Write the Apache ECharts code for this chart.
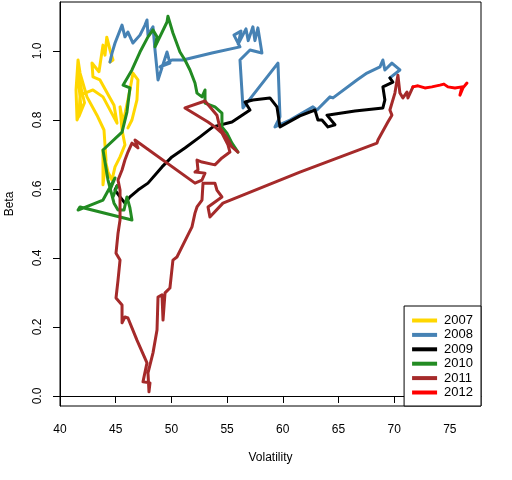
<!DOCTYPE html>
<html>
<head>
<meta charset="utf-8">
<script src="https://cdn.jsdelivr.net/npm/echarts@6/dist/echarts.min.js"></script>
<style>
  html, body { margin: 0; padding: 0; background: #fff; }
  #chart { width: 512px; height: 480px; }
</style>
</head>
<body>
<div id="chart"></div>
<script>
// [volatility, beta], one path per year
const years = ['2007', '2008', '2009', '2010', '2011', '2012'];
const colors = ['#FFD700', '#4682B4', '#000000', '#228B22', '#A52A2A', '#FF0000'];

const path2007 = [
  [46.10, 0.777], [46.46, 0.800], [46.91, 0.858], [47.00, 0.916], [46.55, 0.936],
  [46.28, 0.887], [45.66, 0.791], [45.39, 0.838], [45.57, 0.771], [45.83, 0.728],
  [45.39, 0.693], [44.94, 0.664], [44.67, 0.626], [44.31, 0.649], [43.86, 0.713],
  [43.86, 0.612], [44.13, 0.684], [43.95, 0.771], [43.32, 0.814], [42.42, 0.867],
  [41.80, 0.936], [41.62, 0.974], [41.44, 0.887], [41.53, 0.800], [41.90, 0.830],
  [41.62, 0.930], [42.20, 0.850], [41.70, 0.810], [41.80, 0.872], [42.96, 0.887],
  [43.86, 0.867], [45.12, 0.791], [44.85, 0.843], [43.59, 0.916], [42.96, 0.925],
  [42.87, 0.965], [43.50, 0.940], [43.86, 1.017], [44.04, 0.988], [44.20, 1.040],
  [44.49, 1.003], [44.76, 0.974], [44.49, 0.968]
];
const path2008 = [
  [44.49, 0.968], [44.67, 0.994], [44.94, 1.023], [45.57, 1.075], [45.83, 1.041],
  [46.10, 1.055], [46.55, 1.023], [47.18, 1.046], [47.63, 1.075], [47.81, 1.090],
  [47.90, 1.046], [48.35, 1.070], [48.53, 1.003], [48.80, 0.916], [49.61, 0.997],
  [49.87, 0.965], [48.98, 0.954], [50.05, 0.974], [51.04, 0.974], [53.64, 0.994],
  [56.16, 1.012], [55.62, 1.046], [56.25, 1.058], [56.00, 1.020], [56.70, 1.064],
  [56.90, 1.030], [57.32, 1.070], [57.50, 1.030], [57.77, 1.067], [58.13, 0.994],
  [57.06, 1.003], [56.16, 0.974], [56.43, 0.835], [59.57, 0.965], [59.75, 0.809],
  [59.30, 0.780], [60.65, 0.800], [62.71, 0.838], [63.07, 0.829], [64.24, 0.867],
  [64.51, 0.864], [66.66, 0.916], [67.56, 0.936], [68.73, 0.954], [68.99, 0.974],
  [69.17, 0.945], [69.80, 0.965], [70.52, 0.945], [69.62, 0.922]
];
const path2009 = [
  [69.62, 0.922], [69.89, 0.910], [68.99, 0.896], [69.17, 0.858], [68.99, 0.835],
  [66.48, 0.826], [63.97, 0.814], [64.69, 0.786], [64.06, 0.780], [63.52, 0.800],
  [63.16, 0.800], [62.89, 0.829], [61.54, 0.812], [59.75, 0.780], [59.48, 0.838],
  [58.85, 0.864], [57.32, 0.858], [56.61, 0.852], [57.06, 0.829], [55.44, 0.794],
  [53.73, 0.780], [52.57, 0.751], [51.22, 0.719], [50.05, 0.693], [49.16, 0.664],
  [47.90, 0.617], [47.00, 0.597], [46.28, 0.577], [45.83, 0.559], [45.39, 0.577],
  [44.94, 0.597], [45.12, 0.609]
];
const path2010 = [
  [45.12, 0.609], [44.76, 0.577], [44.49, 0.597], [44.94, 0.632], [43.86, 0.568],
  [41.62, 0.539], [41.80, 0.548], [46.46, 0.510], [46.28, 0.545], [46.01, 0.577],
  [45.75, 0.539], [45.21, 0.539], [44.85, 0.559], [44.31, 0.626], [43.86, 0.713],
  [45.57, 0.765], [46.01, 0.823], [46.28, 0.893], [45.66, 0.901], [46.46, 0.945],
  [47.18, 0.997], [47.90, 1.041], [48.35, 1.061], [48.71, 1.041], [48.53, 1.012],
  [49.61, 1.084], [49.69, 1.101], [50.14, 1.052], [50.77, 0.997], [51.22, 0.974],
  [51.67, 0.945], [52.12, 0.907], [52.30, 0.878], [52.75, 0.867], [53.02, 0.887],
  [53.02, 0.849], [53.91, 0.838], [54.54, 0.820], [54.54, 0.780], [54.99, 0.762],
  [55.44, 0.733], [55.98, 0.707]
];
const path2011 = [
  [55.98, 0.707], [55.44, 0.722], [54.99, 0.748], [54.36, 0.777], [54.09, 0.814],
  [53.02, 0.855], [51.22, 0.835], [53.29, 0.794], [53.91, 0.780], [54.54, 0.762],
  [55.08, 0.728], [55.26, 0.707], [54.54, 0.690], [53.91, 0.670], [52.75, 0.678],
  [52.30, 0.684], [52.39, 0.655], [52.12, 0.649], [53.02, 0.646], [52.75, 0.626],
  [52.12, 0.617], [46.73, 0.742], [47.00, 0.719], [46.46, 0.733], [46.10, 0.707],
  [45.83, 0.684], [45.57, 0.655], [45.21, 0.626], [45.39, 0.597], [45.39, 0.554],
  [45.39, 0.510], [45.21, 0.472], [45.03, 0.414], [45.39, 0.394], [45.21, 0.336],
  [45.03, 0.284], [45.57, 0.264], [45.57, 0.212], [45.83, 0.229], [46.10, 0.226],
  [46.91, 0.162], [47.81, 0.096], [47.45, 0.041], [48.08, 0.038], [47.99, 0.012],
  [47.90, 0.067], [48.35, 0.125], [48.71, 0.191], [48.80, 0.287], [49.16, 0.293],
  [49.25, 0.220], [49.43, 0.299], [49.87, 0.313], [50.14, 0.394], [50.50, 0.403],
  [51.40, 0.461], [51.85, 0.490], [52.12, 0.530], [52.30, 0.548], [52.75, 0.568],
  [52.84, 0.617], [53.91, 0.617], [54.09, 0.597], [54.54, 0.577], [53.29, 0.548],
  [53.46, 0.519], [54.63, 0.559], [61.54, 0.649], [68.46, 0.733], [68.55, 0.742],
  [69.44, 0.794], [69.80, 0.814], [69.62, 0.829], [70.07, 0.878], [70.34, 0.930],
  [70.52, 0.878], [70.79, 0.864], [71.15, 0.881], [71.24, 0.864], [71.69, 0.896]
];
const path2012 = [
  [71.69, 0.896], [72.14, 0.899], [72.76, 0.893], [73.39, 0.896], [74.11, 0.901],
  [74.47, 0.904], [74.83, 0.896], [75.46, 0.893], [76.09, 0.896], [75.91, 0.872],
  [76.18, 0.893], [76.54, 0.907]
];
const paths = [path2007, path2008, path2009, path2010, path2011, path2012];

const xTicks = [40, 45, 50, 55, 60, 65, 70, 75];
const yTicks = [0, 0.2, 0.4, 0.6, 0.8, 1.0];

const chart = echarts.init(document.getElementById('chart'));
const font = 'Liberation Sans, Arial, sans-serif';

chart.setOption({
  animation: false,
  grid: {
    left: 60, right: 31, top: 2, bottom: 74,
    outerBoundsMode: 'none',
    show: true, borderColor: '#000', borderWidth: 1, backgroundColor: 'transparent'
  },
  legend: {
    orient: 'vertical',
    right: 31, bottom: 74,
    padding: [8, 8, 7, 8],
    borderColor: '#000', borderWidth: 1, borderRadius: 0,
    backgroundColor: '#fff',
    itemWidth: 25, itemHeight: 4, itemGap: 1.4,
    icon: 'rect',
    textStyle: { fontFamily: font, fontSize: 13, color: '#000', padding: [0, 0, 0, 2] },
    data: years
  },
  xAxis: {
    type: 'value', min: 40, max: 77.8,
    name: 'Volatility', nameLocation: 'middle', nameGap: 46,
    nameTextStyle: { fontFamily: font, fontSize: 12, color: '#000' },
    axisLine: { show: true, lineStyle: { color: '#000', width: 1 } },
    axisTick: { show: true, length: 7, lineStyle: { color: '#000' }, customValues: xTicks },
    axisLabel: { fontFamily: font, fontSize: 12, color: '#000', margin: 18, customValues: xTicks },
    splitLine: { show: false }
  },
  yAxis: {
    type: 'value', min: -0.029, max: 1.142,
    name: 'Beta', nameLocation: 'middle', nameGap: 44,
    nameTextStyle: { fontFamily: font, fontSize: 12, color: '#000' },
    axisLine: { show: true, lineStyle: { color: '#000', width: 1 } },
    axisTick: { show: true, length: 7, lineStyle: { color: '#000' }, customValues: yTicks },
    axisLabel: {
      fontFamily: font, fontSize: 12, color: '#000', margin: 16, rotate: 90,
      customValues: yTicks,
      formatter: v => v.toFixed(1)
    },
    splitLine: { show: false }
  },
  series: paths.map((p, i) => ({
    name: years[i],
    type: 'line',
    data: p,
    showSymbol: false,
    symbol: 'none',
    color: colors[i],
    lineStyle: { width: 3, color: colors[i], join: 'round', cap: 'round' }
  }))
});
</script>
</body>
</html>
